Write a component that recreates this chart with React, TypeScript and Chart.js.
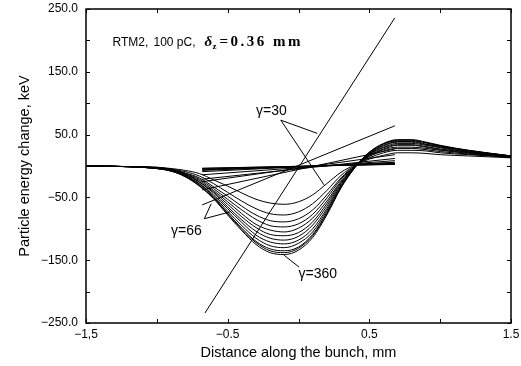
import { useEffect, useRef } from "react";
import { Chart, registerables } from "chart.js";
Chart.register(...registerables);

// Distance along the bunch, mm
const xGrid = [-1.5, -1.2, -1.0, -0.9, -0.8, -0.7, -0.6, -0.5, -0.4, -0.3, -0.2, -0.1, 0, 0.1, 0.2, 0.3, 0.4, 0.5, 0.6, 0.7, 0.8, 0.9, 1.0, 1.2, 1.5];

// Particle energy change (keV) for increasing gamma (30 ... 360)
const wake01 = [0, -1, -2, -4, -7, -12, -22, -32, -43, -53, -59, -61, -57, -46, -28, -10, 2, 11, 17, 21, 21, 20, 18, 16, 13];
const wake02 = [0, -1, -2, -5, -9, -16, -28, -42, -56, -68, -76, -78, -73, -60, -39, -15, 1, 13, 21, 25, 25, 24, 21, 18, 14];
const wake03 = [0, -1, -3, -5, -11, -19, -33, -48, -64, -78, -87, -89, -84, -70, -46, -19, 1, 15, 24, 28, 28, 26, 23, 19, 14];
const wake04 = [0, -1, -3, -6, -12, -21, -36, -53, -70, -85, -95, -97, -92, -77, -51, -21, 0, 16, 26, 30, 30, 28, 25, 20, 14];
const wake05 = [0, -1, -3, -6, -13, -23, -39, -57, -76, -93, -102, -105, -99, -83, -56, -24, 0, 17, 27, 33, 33, 30, 26, 21, 15];
const wake06 = [0, -1, -3, -7, -13, -25, -41, -61, -81, -98, -109, -111, -106, -89, -60, -26, -1, 18, 29, 34, 34, 31, 27, 22, 15];
const wake07 = [0, -1, -3, -7, -14, -26, -43, -65, -86, -104, -115, -118, -112, -94, -64, -28, -1, 19, 30, 36, 36, 33, 29, 22, 15];
const wake08 = [0, -1, -4, -7, -15, -28, -46, -68, -90, -110, -121, -124, -118, -100, -68, -30, -1, 20, 32, 38, 38, 34, 30, 23, 15];
const wake09 = [0, -1, -4, -7, -16, -29, -48, -72, -95, -115, -127, -130, -123, -105, -71, -32, -1, 20, 33, 39, 39, 35, 31, 24, 16];
const wake10 = [0, -1, -4, -8, -16, -31, -50, -75, -99, -120, -132, -135, -129, -109, -74, -33, -2, 21, 35, 40, 40, 37, 32, 24, 16];
const wake11 = [0, -1, -4, -8, -17, -31, -51, -76, -101, -122, -135, -138, -131, -111, -76, -34, -2, 22, 35, 41, 41, 37, 32, 25, 16];
const wake12 = [0, -1, -4, -8, -17, -32, -52, -78, -103, -125, -138, -141, -134, -114, -78, -35, -2, 22, 36, 42, 42, 38, 33, 25, 16];
const wakeCurves = [wake01, wake02, wake03, wake04, wake05, wake06, wake07, wake08, wake09, wake10, wake11, wake12];

// Linear fits: start / end x (mm) and values (keV)
const fitStartX = [-0.66, -0.68, -0.68, -0.68, -0.68, -0.68, -0.68, -0.68, -0.68, -0.68, -0.68, -0.68];
const fitEndX = [0.68, 0.68, 0.68, 0.68, 0.68, 0.68, 0.68, 0.68, 0.68, 0.68, 0.68, 0.68];
const fitStartY = [-234, -62, -38, -25, -21, -14, -9, -7, -6, -5, -4, -3.5];
const fitEndY = [236, 64, 27, 18, 12, 8.5, 6, 5, 4, 3.5, 3, 2.5];

// Axes
const xTickValues = [-1.5, -1.0, -0.5, 0, 0.5, 1.0, 1.5];
const xTickLabels: Record<string, string> = { "-1.5": "\u22121,5", "-0.5": "\u22120.5", "0.5": "0.5", "1.5": "1.5" };
const yTickValues = [-250, -200, -150, -100, -50, 0, 50, 100, 150, 200, 250];
const yLabelValues = [-250, -150, -50, 50, 150, 250];

// Annotations (data coordinates)
const gammaLabels = [
  { text: "\u03b3=30", x: -0.30, y: 87, leaderFrom: [-0.125, 73], leaderTo: [[0.132, 52], [0.18, -30]] },
  { text: "\u03b3=66", x: -0.90, y: -104, leaderFrom: [-0.665, -84], leaderTo: [[-0.616, -60], [-0.482, -73]] },
  { text: "\u03b3=360", x: 0.0, y: -172, leaderFrom: [0.004, -161], leaderTo: [[-0.102, -142]] },
];
const headerPos = { x: -1.313, y: 197 };

const overlay = {
  id: "overlay",
  afterDraw(chart: any) {
    const { ctx, chartArea, scales } = chart;
    const { left, right, top, bottom } = chartArea;
    const xs = scales.x;
    const ys = scales.y;
    ctx.save();
    ctx.strokeStyle = "#000";
    ctx.fillStyle = "#000";
    ctx.lineWidth = 1.5;
    ctx.strokeRect(left, top, right - left, bottom - top);
    ctx.lineWidth = 1;
    const seg = (a: number, b: number, c: number, d: number) => {
      ctx.beginPath();
      ctx.moveTo(a, b);
      ctx.lineTo(c, d);
      ctx.stroke();
    };
    for (const v of xTickValues) {
      const px = Math.round(xs.getPixelForValue(v)) + 0.5;
      seg(px, bottom, px, bottom - 4);
      seg(px, top, px, top + 4);
    }
    for (const v of yTickValues) {
      const py = Math.round(ys.getPixelForValue(v)) + 0.5;
      seg(left, py, left + 4, py);
      seg(right, py, right - 4, py);
    }
    // gamma labels
    ctx.font = "14px 'Liberation Sans', Arial, sans-serif";
    ctx.textBaseline = "middle";
    ctx.textAlign = "left";
    for (const g of gammaLabels) {
      ctx.fillText(g.text, xs.getPixelForValue(g.x), ys.getPixelForValue(g.y));
      const fx = xs.getPixelForValue(g.leaderFrom[0]);
      const fy = ys.getPixelForValue(g.leaderFrom[1]);
      for (const t of g.leaderTo) {
        seg(fx, fy, xs.getPixelForValue(t[0]), ys.getPixelForValue(t[1]));
      }
    }
    // header
    const hx = xs.getPixelForValue(headerPos.x);
    const hy = ys.getPixelForValue(headerPos.y);
    ctx.font = "12px 'Liberation Sans', Arial, sans-serif";
    ctx.fillText("RTM2,", hx, hy);
    ctx.fillText("100 pC,", hx + 41, hy);
    ctx.font = "italic bold 15px 'Liberation Serif', serif";
    ctx.fillText("\u03b4", hx + 92, hy);
    ctx.font = "bold 9px 'Liberation Serif', serif";
    ctx.fillText("z", hx + 100, hy + 4);
    ctx.font = "bold 15px 'Liberation Serif', serif";
    (ctx as any).letterSpacing = "2.5px";
    ctx.fillText("=0.36 mm", hx + 107, hy);
    ctx.restore();
  },
};

export default function App() {
  const ref = useRef<HTMLCanvasElement>(null);
  useEffect(() => {
    if (!ref.current) return;
    const datasets: any[] = [];
    wakeCurves.forEach((c, i) => {
      datasets.push({
        label: "wake" + (i + 1),
        data: xGrid.map((x, j) => ({ x, y: c[j] })),
        borderColor: "#000",
        borderWidth: 1,
        pointRadius: 0,
        cubicInterpolationMode: "monotone",
        fill: false,
      });
    });
    fitStartY.forEach((y0, i) => {
      datasets.push({
        label: "fit" + (i + 1),
        data: [
          { x: fitStartX[i], y: y0 },
          { x: fitEndX[i], y: fitEndY[i] },
        ],
        borderColor: "#000",
        borderWidth: 1,
        pointRadius: 0,
        tension: 0,
        fill: false,
      });
    });
    const chart = new Chart(ref.current, {
      type: "line",
      data: { datasets },
      plugins: [overlay],
      options: {
        animation: false,
        responsive: false,
        devicePixelRatio: 1,
        layout: { autoPadding: false, padding: { top: 9, right: 10, left: 0, bottom: 0 } },
        plugins: { legend: { display: false }, tooltip: { enabled: false } },
        scales: {
          x: {
            type: "linear",
            min: -1.5,
            max: 1.5,
            border: { display: false },
            grid: { display: false, drawTicks: false },
            afterFit: (s: any) => { s.height = 43; s.paddingLeft = 0; s.paddingRight = 0; },
            afterBuildTicks: (s: any) => { s.ticks = xTickValues.map((v) => ({ value: v })); },
            ticks: {
              autoSkip: false,
              maxRotation: 0,
              padding: 4,
              color: "#000",
              font: { family: "'Liberation Sans', Arial, sans-serif", size: 12 },
              callback: (v: any) => xTickLabels[String(Number(v))] ?? "",
            },
            title: {
              display: true,
              text: "Distance along the bunch, mm",
              color: "#000",
              font: { family: "'Liberation Sans', Arial, sans-serif", size: 14.5 },
              padding: { top: 0, bottom: 4.3 },
            },
          },
          y: {
            type: "linear",
            min: -250,
            max: 250,
            border: { display: false },
            grid: { display: false, drawTicks: false },
            afterFit: (s: any) => { s.width = 86; s.paddingTop = 0; s.paddingBottom = 0; },
            afterBuildTicks: (s: any) => { s.ticks = yTickValues.map((v) => ({ value: v })); },
            ticks: {
              autoSkip: false,
              padding: 8,
              color: "#000",
              font: { family: "'Liberation Sans', Arial, sans-serif", size: 12 },
              callback: (v: any) => {
                const n = Number(v);
                if (!yLabelValues.includes(n)) return "";
                return (n < 0 ? "\u2212" : "") + Math.abs(n).toFixed(1);
              },
            },
            title: {
              display: true,
              text: "Particle energy change, keV",
              color: "#000",
              font: { family: "'Liberation Sans', Arial, sans-serif", size: 14.5 },
              padding: { top: 16.3, bottom: 0 },
            },
          },
        },
      },
    });
    return () => chart.destroy();
  }, []);
  return (
    <div style={{ position: "fixed", left: 0, top: 0, width: 521, height: 366, background: "#fff" }}>
      <canvas ref={ref} width={521} height={366} />
    </div>
  );
}
